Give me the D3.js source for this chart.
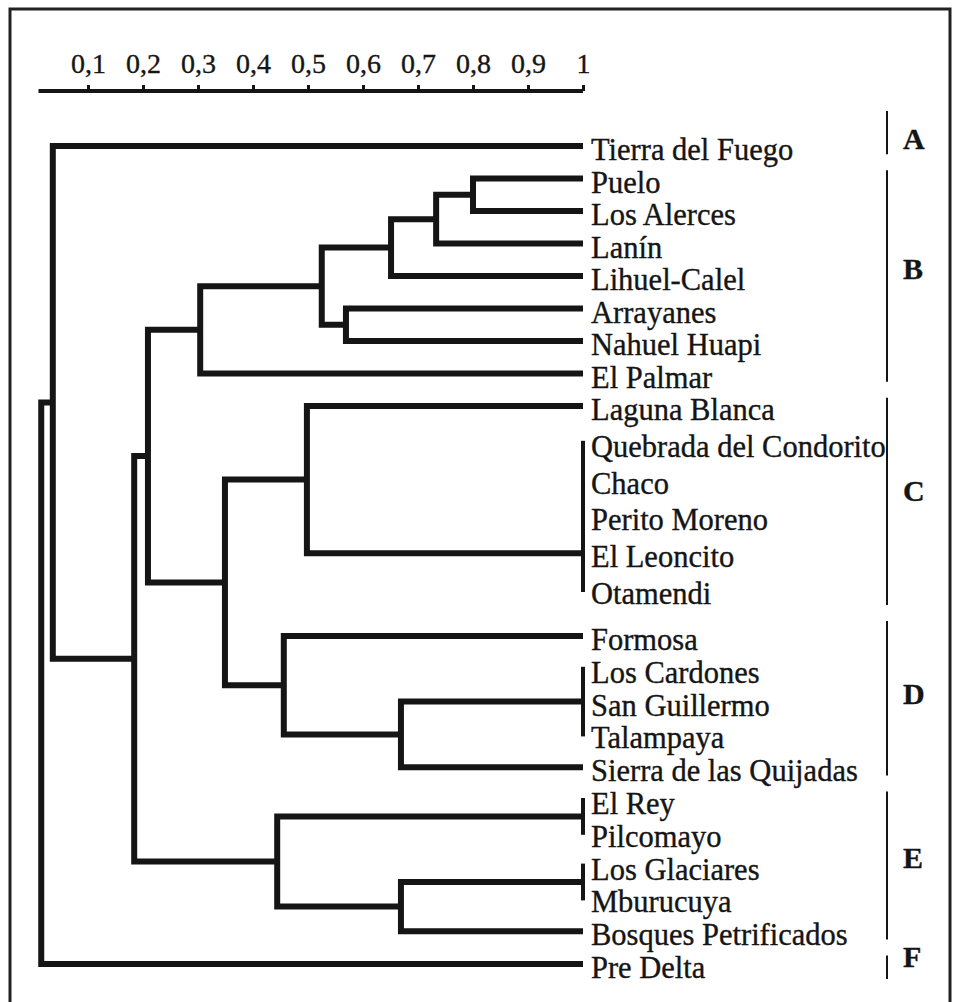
<!DOCTYPE html>
<html>
<head>
<meta charset="utf-8">
<script src="https://cdn.jsdelivr.net/npm/d3@7"></script>
<style>
  body { margin: 0; background: #fff; }
  text { font-family: "Liberation Serif", "Times New Roman", serif; fill: #151515; stroke: #151515; stroke-width: 0.35; }
</style>
</head>
<body>
<svg id="chart"></svg>
<script>
// ---------------------------------------------------------------
//    DATA
// ---------------------------------------------------------------
const leaves = [
    "Tierra del Fuego", "Puelo", "Los Alerces", "Lanín", "Lihuel-Calel",
    "Arrayanes", "Nahuel Huapi", "El Palmar", "Laguna Blanca",
    "Quebrada del Condorito", "Chaco", "Perito Moreno", "El Leoncito", "Otamendi",
    "Formosa", "Los Cardones", "San Guillermo", "Talampaya", "Sierra de las Quijadas",
    "El Rey", "Pilcomayo", "Los Glaciares", "Mburucuya", "Bosques Petrificados",
    "Pre Delta"
];

const ticks = [0.1, 0.2, 0.3, 0.4, 0.5, 0.6, 0.7, 0.8, 0.9, 1];

// [node id, children, similarity] -- children always listed before parents
const merges = [
    ["PA",   ["Puelo", "Los Alerces"], 0.80],
    ["PAL",  ["PA", "Lanín"], 0.733],
    ["PALL", ["PAL", "Lihuel-Calel"], 0.651],
    ["AN",   ["Arrayanes", "Nahuel Huapi"], 0.569],
    ["Bs",   ["PALL", "AN"], 0.525],
    ["B",    ["Bs", "El Palmar"], 0.304],
    ["Ct",   ["Quebrada del Condorito", "Chaco", "Perito Moreno", "El Leoncito", "Otamendi"], 1],
    ["C",    ["Laguna Blanca", "Ct"], 0.498],
    ["Dt",   ["Los Cardones", "San Guillermo", "Talampaya"], 1],
    ["Ds",   ["Dt", "Sierra de las Quijadas"], 0.669],
    ["D",    ["Formosa", "Ds"], 0.456],
    ["CD",   ["C", "D"], 0.349],
    ["BCD",  ["B", "CD"], 0.209],
    ["Et1",  ["El Rey", "Pilcomayo"], 1],
    ["Et2",  ["Los Glaciares", "Mburucuya"], 1],
    ["Es",   ["Et2", "Bosques Petrificados"], 0.669],
    ["E",    ["Et1", "Es"], 0.444],
    ["BCDE", ["BCD", "E"], 0.184],
    ["AB",   ["Tierra del Fuego", "BCDE"], 0.036],
    ["root", ["AB", "Pre Delta"], 0.015]
];

// tie groups that hang from one member instead of their middle
const tieJoin = { Ct: "El Leoncito" };

// [letter, first leaf, last leaf]
const groups = [
    ["A", "Tierra del Fuego", "Tierra del Fuego"],
    ["B", "Puelo", "El Palmar"],
    ["C", "Laguna Blanca", "Otamendi"],
    ["D", "Formosa", "Sierra de las Quijadas"],
    ["E", "El Rey", "Bosques Petrificados"],
    ["F", "Pre Delta", "Pre Delta"]
];

// ---------------------------------------------------------------
//    LAYOUT
// ---------------------------------------------------------------
const width = 957, height = 1002;

const svg = d3.select("#chart")
    .attr("width", width)
    .attr("height", height);

svg.append("rect").attr("width", width).attr("height", height).attr("fill", "#fff");

// frame (open at the bottom, like the scan)
svg.append("path")
    .attr("d", `M10,${height} V9 H950 V${height}`)
    .attr("fill", "none")
    .attr("stroke", "#222")
    .attr("stroke-width", 3);

const x = d3.scaleLinear().domain([0, 1]).range([33, 583]);

// rows are a bit wider inside tie group C and there is a gap before D
const y = d3.scaleLinear()
    .domain([0, 8, 13, 14, 24])
    .range([146, 406, 590, 636, 964]);

// ---------------------------------------------------------------
//    AXIS
// ---------------------------------------------------------------
const axis = d3.axisTop(x)
    .tickValues(ticks)
    .tickFormat(d => String(d).replace(".", ","))
    .tickSize(6)
    .tickSizeOuter(0)
    .tickPadding(12);

const gAxis = svg.append("g")
    .attr("transform", "translate(0,91)")
    .call(axis);

gAxis.select(".domain")
    .attr("d", `M${x(0.01)},0 H${x(1)}`)
    .attr("stroke", "#151515")
    .attr("stroke-width", 4);
gAxis.selectAll(".tick line")
    .attr("stroke", "#151515")
    .attr("stroke-width", 3);
gAxis.selectAll(".tick text")
    .attr("font-size", 28)
    .attr("fill", "#151515");

// ---------------------------------------------------------------
//    TREE
// ---------------------------------------------------------------
const nodes = {};
leaves.forEach((name, i) => {
    nodes[name] = { id: name, sim: 1, y: y(i) };
});
merges.forEach(([id, children, sim]) => {
    let kids = children.map(c => nodes[c]);
    let ny = tieJoin[id] ? nodes[tieJoin[id]].y
                         : (kids[0].y + kids[kids.length - 1].y) / 2;
    nodes[id] = { id: id, sim: sim, y: ny, kids: kids };
});

const links = merges.map(([id]) => nodes[id]);

svg.append("g")
    .attr("fill", "none")
    .attr("stroke", "#151515")
    .attr("stroke-linejoin", "miter")
    .selectAll("path")
    .data(links)
    .join("path")
    .attr("stroke-width", d => d.sim === 1 ? 4 : 6)
    .attr("stroke-linecap", d => d.sim === 1 ? "square" : "butt")
    .attr("d", d => {
        let first = d.kids[0], last = d.kids[d.kids.length - 1];
        return `M${x(first.sim)},${first.y} H${x(d.sim)} V${last.y} H${x(last.sim)}`;
    });

// leaf labels
svg.append("g")
    .selectAll("text")
    .data(leaves)
    .join("text")
    .attr("x", 591)
    .attr("y", (d, i) => y(i) + 4)
    .attr("dominant-baseline", "central")
    .attr("font-size", 30.5)
    .text(d => d);

// ---------------------------------------------------------------
//    GROUP BRACKETS
// ---------------------------------------------------------------
const rowGap = (a, b) => (y(a) + y(b)) / 2;

groups.forEach(([letter, first, last]) => {
    let i0 = leaves.indexOf(first), i1 = leaves.indexOf(last);
    let top = i0 === 0 ? y(0) - 35 : rowGap(i0 - 1, i0) + 8;
    let bottom = i1 === leaves.length - 1 ? y(i1) + 15 : rowGap(i1, i1 + 1) - 8;

    svg.append("line")
        .attr("x1", 887).attr("x2", 887)
        .attr("y1", top).attr("y2", bottom)
        .attr("stroke", "#151515")
        .attr("stroke-width", 2);

    svg.append("text")
        .attr("x", 903)
        .attr("y", (y(i0) + y(i1)) / 2 - 8)
        .attr("dominant-baseline", "central")
        .attr("font-size", 30)
        .attr("font-weight", "bold")
        .text(letter);
});
</script>
</body>
</html>
